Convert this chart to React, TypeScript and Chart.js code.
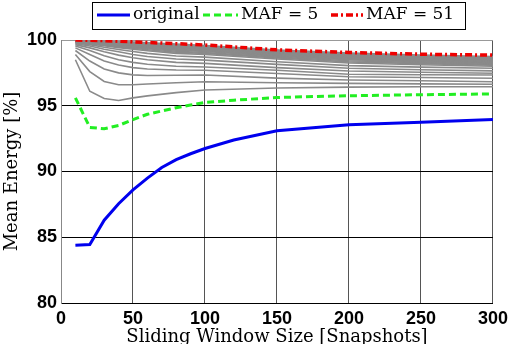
import React, { useEffect, useRef } from "react";
import { Chart, registerables } from "chart.js";

Chart.register(...registerables);

// ---------- data ----------
const xFull = [10, 20, 30, 40, 50, 60, 70, 80, 90, 100, 120, 150, 200, 250, 300];
const originalValues = [84.4, 84.45, 86.3, 87.55, 88.6, 89.5, 90.3, 90.9, 91.35, 91.75, 92.4, 93.1, 93.55, 93.75, 93.95];
const maf5Values = [95.6, 93.35, 93.25, 93.5, 93.95, 94.35, 94.6, 94.85, 95.05, 95.25, 95.42, 95.63, 95.76, 95.84, 95.9];

const xGray = [10, 20, 30, 40, 50, 60, 80, 100, 150, 200, 250, 300];
const maf51Values = [100, 99.98, 99.95, 99.91, 99.86, 99.81, 99.72, 99.62, 99.25, 99.05, 98.92, 98.85];
const grayCurves = [
  [98.5, 96.1, 95.55, 95.4, 95.6, 95.75, 96.0, 96.2, 96.35, 96.42, 96.44, 96.45],
  [98.9, 97.6, 96.85, 96.6, 96.6, 96.65, 96.75, 96.83, 96.75, 96.7, 96.66, 96.63],
  [99.2, 98.4, 97.8, 97.5, 97.35, 97.3, 97.32, 97.34, 97.1, 96.96, 96.9, 96.83],
  [99.4, 98.9, 98.4, 98.1, 97.9, 97.8, 97.72, 97.7, 97.45, 97.21, 97.15, 97.09],
  [99.55, 99.2, 98.8, 98.5, 98.3, 98.15, 98.0, 97.95, 97.7, 97.39, 97.36, 97.34],
  [99.65, 99.4, 99.1, 98.85, 98.65, 98.5, 98.3, 98.22, 97.9, 97.64, 97.55, 97.47],
  [99.72, 99.55, 99.3, 99.1, 98.9, 98.75, 98.55, 98.47, 98.15, 97.85, 97.74, 97.65],
  [99.78, 99.65, 99.45, 99.28, 99.12, 98.98, 98.78, 98.7, 98.35, 98.05, 97.94, 97.85],
  [99.82, 99.72, 99.56, 99.42, 99.3, 99.18, 98.98, 98.9, 98.55, 98.25, 98.12, 98.0],
  [99.84, 99.75, 99.6, 99.48, 99.37, 99.26, 99.07, 98.98, 98.63, 98.34, 98.2, 98.08],
  [99.86, 99.78, 99.65, 99.53, 99.43, 99.33, 99.15, 99.05, 98.7, 98.42, 98.28, 98.15],
  [99.88, 99.81, 99.69, 99.58, 99.49, 99.4, 99.23, 99.12, 98.77, 98.5, 98.35, 98.22],
  [99.89, 99.83, 99.72, 99.62, 99.53, 99.45, 99.3, 99.18, 98.83, 98.56, 98.41, 98.28],
  [99.91, 99.85, 99.75, 99.66, 99.58, 99.5, 99.36, 99.24, 98.89, 98.62, 98.47, 98.34],
  [99.92, 99.87, 99.78, 99.7, 99.62, 99.55, 99.42, 99.3, 98.95, 98.68, 98.53, 98.4],
  [99.93, 99.89, 99.8, 99.73, 99.66, 99.59, 99.46, 99.35, 99.0, 98.74, 98.58, 98.45],
  [99.94, 99.9, 99.83, 99.76, 99.7, 99.63, 99.5, 99.4, 99.05, 98.79, 98.62, 98.5],
  [99.95, 99.92, 99.85, 99.79, 99.73, 99.67, 99.54, 99.44, 99.09, 98.84, 98.66, 98.55],
  [99.96, 99.93, 99.87, 99.81, 99.76, 99.7, 99.58, 99.48, 99.13, 98.88, 98.7, 98.6],
  [99.97, 99.94, 99.89, 99.83, 99.78, 99.73, 99.61, 99.51, 99.17, 98.92, 98.74, 98.63],
  [99.97, 99.95, 99.9, 99.85, 99.8, 99.75, 99.64, 99.54, 99.2, 98.95, 98.78, 98.68],
  [99.98, 99.96, 99.92, 99.88, 99.84, 99.79, 99.69, 99.58, 99.23, 99.0, 98.85, 98.75],
];

const legendLabels = ["original", "MAF = 5", "MAF = 51"];
const xTitle = "Sliding Window Size [Snapshots]";
const yTitle = "Mean Energy [%]";
const xMin = 0, xMax = 300, xStep = 50;
const yMin = 80, yMax = 100, yStep = 5;

const pts = (xs: number[], ys: number[]) => xs.map((x, i) => ({ x, y: ys[i] }));

const SERIF = "'DejaVu Serif', serif";
const SANS = "'Liberation Sans', Arial, sans-serif";

const BLUE = "#0000ee";
const GREEN = "#22ee22";
const RED = "#ee0000";
const GRAY = "#8a8a8a";

const legendPlugin = {
  id: "boxLegend",
  afterDraw(chart: any) {
    const ctx = chart.ctx as CanvasRenderingContext2D;
    ctx.save();
    ctx.fillStyle = "#fff";
    ctx.fillRect(92.5, 2.5, 373, 27);
    ctx.strokeStyle = "#000";
    ctx.lineWidth = 1;
    ctx.strokeRect(92.5, 2.5, 373, 27);
    const items = [
      { x0: 97, x1: 130, tx: 133, color: BLUE, dash: [] as number[], w: 3 },
      { x0: 203, x1: 238, tx: 241, color: GREEN, dash: [7, 4], w: 3 },
      { x0: 331, x1: 363, tx: 366, color: RED, dash: [7, 3, 2, 3], w: 3.5 },
    ];
    const y = 15;
    items.forEach((it, i) => {
      ctx.beginPath();
      ctx.setLineDash(it.dash);
      ctx.strokeStyle = it.color;
      ctx.lineWidth = it.w;
      ctx.moveTo(it.x0, y);
      ctx.lineTo(it.x1, y);
      ctx.stroke();
      ctx.setLineDash([]);
      ctx.fillStyle = "#000";
      ctx.font = `17px ${SERIF}`;
      ctx.textBaseline = "middle";
      ctx.textAlign = "left";
      ctx.fillText(legendLabels[i], it.tx, y);
    });
    ctx.restore();
  },
};

export default function App() {
  const ref = useRef<HTMLCanvasElement | null>(null);
  useEffect(() => {
    if (!ref.current) return;
    const datasets: any[] = [
      {
        label: legendLabels[2],
        data: pts(xGray, maf51Values),
        borderColor: RED,
        borderWidth: 3.5,
        borderDash: [7, 3, 2, 3],
        pointRadius: 0,
        order: 0,
      },
      {
        label: legendLabels[0],
        data: pts(xFull, originalValues),
        borderColor: BLUE,
        borderWidth: 3,
        pointRadius: 0,
        order: 1,
      },
      {
        label: legendLabels[1],
        data: pts(xFull, maf5Values),
        borderColor: GREEN,
        borderWidth: 3,
        borderDash: [7, 4],
        pointRadius: 0,
        order: 2,
      },
      ...grayCurves.map((c, i) => ({
        label: "g" + i,
        data: pts(xGray, c),
        borderColor: GRAY,
        borderWidth: 1.6,
        pointRadius: 0,
        order: 10,
      })),
    ];
    const chart = new Chart(ref.current, {
      type: "line",
      data: { datasets },
      plugins: [legendPlugin],
      options: {
        animation: false,
        responsive: false,
        events: [],
        layout: { padding: { top: 40, right: 16, left: 0, bottom: 0 } },
        plugins: { legend: { display: false }, tooltip: { enabled: false } },
        elements: { line: { tension: 0 } },
        scales: {
          x: {
            type: "linear",
            min: xMin,
            max: xMax,
            afterFit: (s: any) => { s.height = 41; },
            ticks: { stepSize: xStep, color: "#000", font: { family: SANS, size: 18, weight: "bold" }, padding: 5, maxRotation: 0 },
            grid: {
              drawTicks: false,
              color: (c: any) => (c.tick && c.tick.value === 0 ? "#888" : "#555"),
              lineWidth: 1,
            },
            border: { display: true, color: "#000", width: 1 },
            title: {
              display: true,
              text: xTitle,
              color: "#000",
              font: { family: SERIF, size: 18 },
              padding: { top: 0, bottom: -4 },
            },
          },
          y: {
            type: "linear",
            min: yMin,
            max: yMax,
            afterFit: (s: any) => { s.width = 61; },
            ticks: { stepSize: yStep, color: "#000", font: { family: SANS, size: 18, weight: "bold" }, padding: 4 },
            grid: {
              drawTicks: false,
              color: (c: any) => (c.tick && c.tick.value === 100 ? "#999" : "#000"),
              lineWidth: 1,
            },
            border: { display: true, color: "#888", width: 1 },
            title: {
              display: true,
              text: yTitle,
              color: "#000",
              font: { family: SERIF, size: 18 },
              padding: { top: 2, bottom: 0 },
            },
          },
        },
      } as any,
    });
    return () => chart.destroy();
  }, []);
  return (
    <div style={{ position: "fixed", left: 0, top: 0, width: 513, height: 344, background: "#fff" }}>
      <canvas ref={ref} width={513} height={344} style={{ display: "block" }} />
    </div>
  );
}
